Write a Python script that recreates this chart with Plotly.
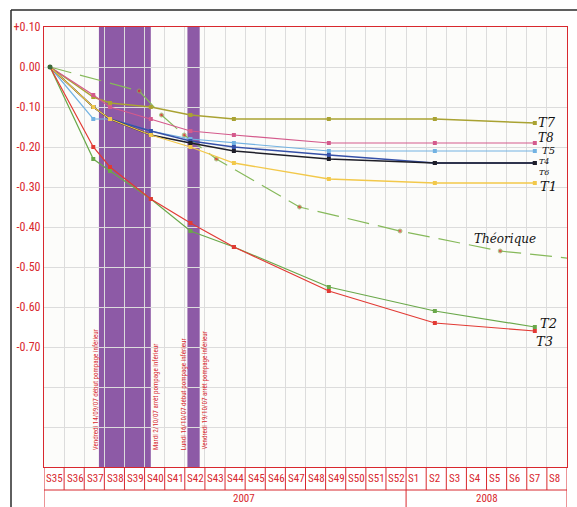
import plotly.graph_objects as go

# ---------------- data ----------------
# x positions expressed in weeks from the start of S35 (2007)
X_MEAS = [0.30, 2.45, 3.28, 5.31, 7.28, 9.44, 14.16, 19.43, 24.40]
T1 = [0, -0.10, -0.13, -0.17, -0.20, -0.24, -0.28, -0.29, -0.29]
T2 = [0, -0.23, -0.26, -0.33, -0.41, -0.45, -0.55, -0.61, -0.65]
T3 = [0, -0.20, -0.25, -0.33, -0.39, -0.45, -0.56, -0.64, -0.66]
T4 = [0, -0.10, -0.13, -0.16, -0.185, -0.20, -0.22, -0.24, -0.24]
T5 = [0, -0.13, -0.13, -0.16, -0.18, -0.19, -0.21, -0.21, -0.21]
T6 = [0, -0.10, -0.13, -0.17, -0.19, -0.21, -0.23, -0.24, -0.24]
T7 = [0, -0.075, -0.09, -0.10, -0.12, -0.13, -0.13, -0.13, -0.14]
T8 = [0, -0.07, -0.10, -0.13, -0.16, -0.17, -0.19, -0.19, -0.19]

X_THEO = [0.30, 4.73, 5.84, 6.97, 8.57, 12.70, 17.70, 22.68, 26.45]
THEO = [0, -0.06, -0.12, -0.17, -0.23, -0.35, -0.41, -0.46, -0.48]

# pumping periods (week units)
BANDS = [(2.73, 5.31), (7.13, 7.74)]
BAND_TEXTS = ["Vendredi 14/09/07 début pompage inférieur",
              "Mardi 2/10/07 arrêt pompage inférieur",
              "Lundi 16/10/07 début pompage inférieur",
              "Vendredi 19/10/07 arrêt pompage inférieur"]
BAND_TEXT_X = [2.57, 5.57, 6.97, 7.98]

WEEKS = ["S35", "S36", "S37", "S38", "S39", "S40", "S41", "S42", "S43", "S44",
         "S45", "S46", "S47", "S48", "S49", "S50", "S51", "S52",
         "S1", "S2", "S3", "S4", "S5", "S6", "S7", "S8"]
YEARS = ["2007", "2008"]
YEAR_WEEKS = [18, 8]

Y_TICKS = [0.10, 0.0, -0.10, -0.20, -0.30, -0.40, -0.50, -0.60, -0.70, -0.80, -0.90]
Y_TICKTEXT = ["+0.10", "0.00", "-0.10", "-0.20", "-0.30", "-0.40", "-0.50",
              "-0.60", "-0.70", "", ""]

RED = "#d8282e"
NARROW = "Liberation Sans Narrow, Arial Narrow, Roboto Condensed, DejaVu Sans Condensed, sans-serif"
HAND = "DejaVu Serif, serif"

series = [
    ("T7", T7, "#a9a232", 1.4),
    ("T8", T8, "#d45a8c", 1.2),
    ("T5", T5, "#72b2e2", 1.2),
    ("T4", T4, "#3550a8", 1.4),
    ("T6", T6, "#1e1e28", 1.5),
    ("T1", T1, "#f2c84a", 1.3),
    ("T2", T2, "#6aa84a", 1.2),
    ("T3", T3, "#e23a34", 1.2),
]

fig = go.Figure()

# theoretical curve
theo_sizes = [0] + [4] * (len(THEO) - 2) + [0]
fig.add_trace(go.Scatter(
    x=X_THEO, y=THEO, mode="lines+markers", name="Théorique",
    line=dict(color="#86b95a", width=1.2, dash="22px,9px"),
    marker=dict(color="#e0282a", size=theo_sizes, symbol="circle"),
    showlegend=False, hoverinfo="skip"))

for name, vals, col, w in series:
    fig.add_trace(go.Scatter(
        x=X_MEAS, y=vals, mode="lines+markers", name=name,
        line=dict(color=col, width=w),
        marker=dict(color=col, size=4, symbol="square"),
        showlegend=False))

# start point
fig.add_trace(go.Scatter(x=[X_MEAS[0]], y=[T1[0]], mode="markers",
                         marker=dict(color="#3a6a3a", size=5), showlegend=False))

shapes = []
for a, b in BANDS:
    shapes.append(dict(type="rect", xref="x", yref="y", x0=a, x1=b, y0=-1.0, y1=0.10,
                       fillcolor="#8d5aa6", line=dict(width=0), layer="below"))

# table below the plot
row1 = -23 / 440
row2 = -0.2
nweeks = len(WEEKS)
shapes.append(dict(type="line", xref="x", yref="paper", x0=0, x1=nweeks, y0=row1, y1=row1,
                   line=dict(color=RED, width=1)))
for i in range(nweeks + 1):
    shapes.append(dict(type="line", xref="x", yref="paper", x0=i, x1=i, y0=0, y1=row1,
                       line=dict(color=RED, width=1)))
acc = 0
for n in [0] + YEAR_WEEKS:
    acc += n
    shapes.append(dict(type="line", xref="x", yref="paper", x0=acc, x1=acc, y0=row1, y1=row2,
                       line=dict(color=RED, width=1)))

# paper frame of the scan
shapes.append(dict(type="line", xref="paper", yref="paper", x0=-33 / 523, x1=-33 / 523,
                   y0=-0.2, y1=457 / 440, line=dict(color="#2a2a2a", width=1.5)))
shapes.append(dict(type="line", xref="paper", yref="paper", x0=-33 / 523, x1=1.1,
                   y0=457 / 440, y1=457 / 440, line=dict(color="#2a2a2a", width=1.5)))

annotations = []
for i, wk in enumerate(WEEKS):
    annotations.append(dict(x=i + 0.02, y=row1 / 2, xref="x", yref="paper", text=wk,
                            xanchor="left", yanchor="middle", showarrow=False,
                            font=dict(color=RED, size=11, family=NARROW)))
year_centers = [9.95, 22.0]
for yr, xc in zip(YEARS, year_centers):
    annotations.append(dict(x=xc, y=-31 / 440, xref="x", yref="paper", text=yr,
                            xanchor="center", yanchor="middle", showarrow=False,
                            font=dict(color=RED, size=11, family=NARROW)))

for txt, xx in zip(BAND_TEXTS, BAND_TEXT_X):
    annotations.append(dict(x=xx, y=-0.9625, xref="x", yref="y", text=txt, textangle=-90,
                            xanchor="center", yanchor="bottom", showarrow=False,
                            font=dict(color=RED, size=7, family=NARROW)))

labels = [("T7", 25.02, -0.139, 13), ("T8", 24.97, -0.177, 12), ("T5", 25.07, -0.2075, 10),
          ("T4", 24.86, -0.235, 8), ("T6", 24.86, -0.2625, 8), ("T1", 25.10, -0.2975, 13),
          ("Théorique", 22.92, -0.43, 12), ("T2", 25.10, -0.64, 13), ("T3", 24.86, -0.687, 13)]
for t, xx, yy, sz in labels:
    annotations.append(dict(x=xx, y=yy, xref="x", yref="y", text="<i>" + t + "</i>",
                            showarrow=False, xanchor="center", yanchor="middle",
                            font=dict(color="#111111", size=sz, family=HAND)))

fig.update_layout(
    width=577, height=507,
    margin=dict(l=44, r=10, t=27, b=40, autoexpand=False),
    paper_bgcolor="#ffffff", plot_bgcolor="#fcfcfa",
    shapes=shapes, annotations=annotations,
    xaxis=dict(range=[0, nweeks], dtick=1, tick0=0, showticklabels=False,
               showgrid=True, gridcolor="#dcdcdc", gridwidth=1, zeroline=False,
               showline=True, linecolor=RED, linewidth=1.2, mirror=True, ticks="",
               automargin=False),
    yaxis=dict(range=[-1.0, 0.10], tickvals=Y_TICKS, ticktext=Y_TICKTEXT,
               showgrid=True, gridcolor="#dcdcdc", gridwidth=1, zeroline=False,
               showline=True, linecolor=RED, linewidth=1.2, mirror=True, ticks="",
               tickfont=dict(color=RED, size=12, family=NARROW), automargin=False),
)

fig.write_html("out.html", config={"displayModeBar": False},
               post_script="document.body.style.margin='0';document.body.style.overflow='hidden';")
